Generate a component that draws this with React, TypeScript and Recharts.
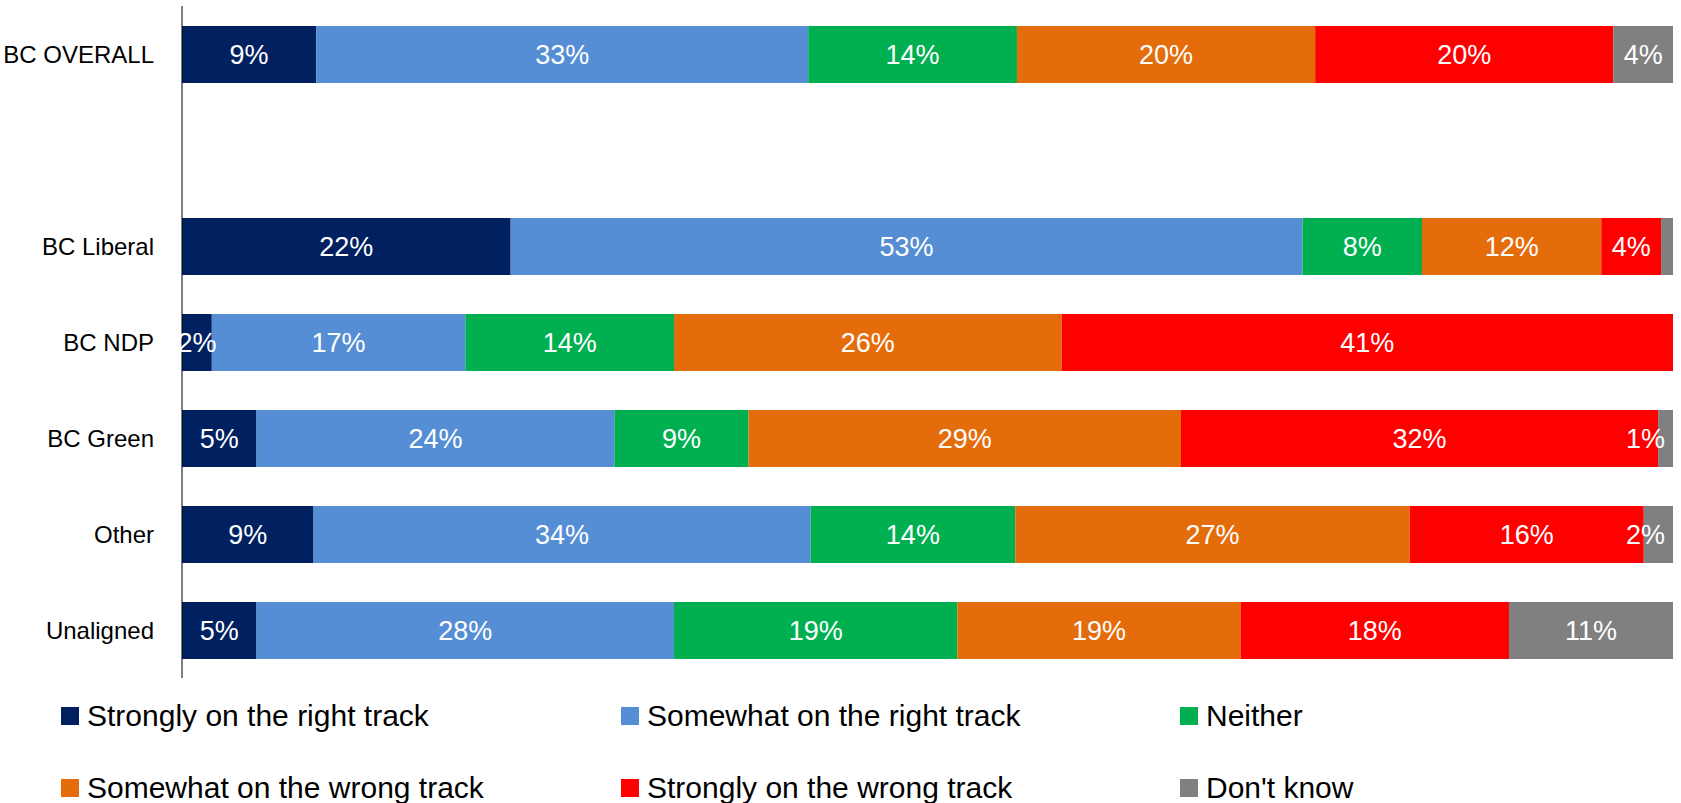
import React from 'react';
import { BarChart, Bar, XAxis, YAxis, Legend, LabelList } from 'recharts';

const categories = ['BC OVERALL', '', 'BC Liberal', 'BC NDP', 'BC Green', 'Other', 'Unaligned'];
const seriesNames = [
  'Strongly on the right track',
  'Somewhat on the right track',
  'Neither',
  'Somewhat on the wrong track',
  'Strongly on the wrong track',
  "Don't know",
];
const strongRight = [9, 0, 22, 2, 5, 9, 5];
const somewhatRight = [33, 0, 53, 17, 24, 34, 28];
const neither = [14, 0, 8, 14, 9, 14, 19];
const somewhatWrong = [20, 0, 12, 26, 29, 27, 19];
const strongWrong = [20, 0, 4, 41, 32, 16, 18];
const dontKnow = [4, 0, 0.8, 0, 1, 2, 11];

const seriesValues = [strongRight, somewhatRight, neither, somewhatWrong, strongWrong, dontKnow];
const seriesKeys = ['s0', 's1', 's2', 's3', 's4', 's5'];
const colors = ['#002060', '#558ED5', '#00B050', '#E46C0A', '#FF0000', '#808080'];

const FONT = '"Liberation Sans", Arial, sans-serif';
const LABEL_SIZE = 27;
const PLOT_RIGHT = 1673;

const data = categories.map((name, i) => {
  const row: any = { name };
  seriesKeys.forEach((k, s) => {
    row[k] = seriesValues[s][i];
  });
  return row;
});

const renderLabel = (props: any) => {
  const { x, y, width, height, value } = props;
  const v = Number(value);
  if (!v || v < 1) return null;
  const txt = `${Math.round(v)}%`;
  const approxW = (txt.length - 1) * 0.556 * LABEL_SIZE + 0.889 * LABEL_SIZE;
  let cx = Number(x) + Number(width) / 2;
  const maxCx = PLOT_RIGHT - 8 - approxW / 2;
  if (cx > maxCx) cx = maxCx;
  return (
    <text
      x={cx}
      y={Number(y) + Number(height) / 2}
      fill="#ffffff"
      textAnchor="middle"
      dominantBaseline="central"
      fontSize={LABEL_SIZE}
      fontFamily={FONT}
    >
      {txt}
    </text>
  );
};

const colX = [61, 621, 1180];
const rowY = [716, 788];
const LEGEND_TOP = 678;

const renderLegend = (props: any) => {
  const payload = [...(props.payload || [])].sort(
    (a: any, b: any) => seriesNames.indexOf(a.value) - seriesNames.indexOf(b.value)
  );
  return (
    <div style={{ position: 'relative', width: 1673, height: 125 }}>
      {payload.map((p: any, i: number) => {
        const col = i % 3;
        const row = Math.floor(i / 3);
        return (
          <div
            key={i}
            style={{
              position: 'absolute',
              left: colX[col],
              top: rowY[row] - LEGEND_TOP - 18,
              height: 36,
              display: 'flex',
              alignItems: 'center',
              whiteSpace: 'nowrap',
            }}
          >
            <span style={{ display: 'inline-block', width: 18, height: 18, background: p.color, marginRight: 8 }} />
            <span style={{ fontFamily: FONT, fontSize: 30, color: '#000', lineHeight: '36px' }}>{p.value}</span>
          </div>
        );
      })}
    </div>
  );
};

export default function App() {
  return (
    <div style={{ position: 'absolute', left: 0, top: 0, width: 1681, height: 803, background: '#fff' }}>
      <BarChart
        width={1681}
        height={803}
        data={data}
        layout="vertical"
        stackOffset="expand"
        barSize={57}
        margin={{ top: 6, right: 8, bottom: 0, left: 0 }}
      >
        <XAxis type="number" hide domain={[0, 1]} />
        <YAxis
          type="category"
          dataKey="name"
          width={182}
          interval={0}
          axisLine={{ stroke: '#000', strokeWidth: 1 }}
          tickLine={false}
          tickSize={0}
          tickMargin={28}
          tick={{ fill: '#000', fontSize: 24, fontFamily: FONT }}
        />
        <Legend
          verticalAlign="bottom"
          content={renderLegend}
          wrapperStyle={{ top: LEGEND_TOP, left: 0, height: 125 }}
        />
        {seriesKeys.map((k, s) => (
          <Bar key={k} dataKey={k} name={seriesNames[s]} stackId="a" fill={colors[s]} isAnimationActive={false}>
            <LabelList dataKey={k} content={renderLabel} />
          </Bar>
        ))}
      </BarChart>
    </div>
  );
}
